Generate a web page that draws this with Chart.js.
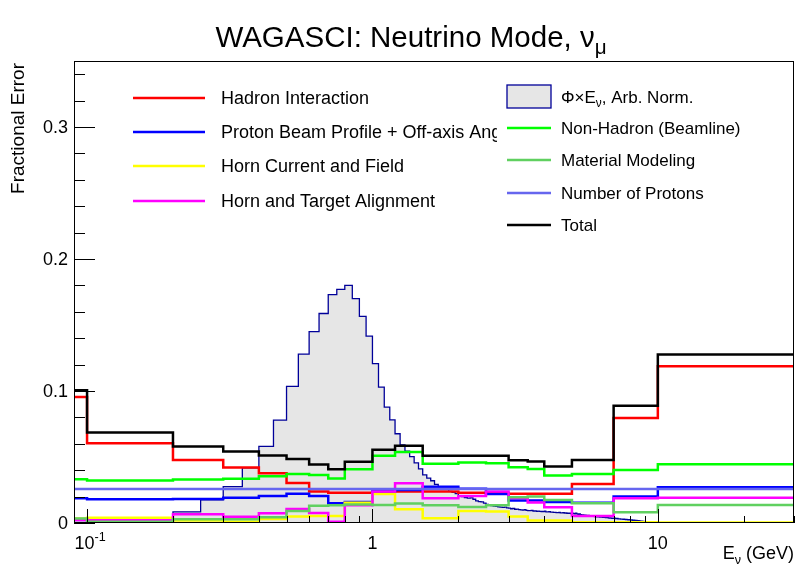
<!DOCTYPE html>
<html>
<head>
<meta charset="utf-8">
<script src="https://cdn.jsdelivr.net/npm/chart.js@4.4.0/dist/chart.umd.min.js"></script>
<style>
  html, body { margin: 0; padding: 0; background: #fff; }
</style>
</head>
<body>
<canvas id="graph" width="796" height="567"></canvas>
<script>
var chart;

// bin edges of the error histograms (GeV)
var binEdges = [0, 0.1, 0.2, 0.3, 0.4, 0.5, 0.6, 0.7, 0.8, 1.0, 1.2, 1.5, 2.0, 2.5, 3.0, 3.5, 4.0, 5.0, 7.0, 10.0, 30.0];

// fractional errors per bin
var hadron      = [0.0954, 0.0605, 0.0478, 0.0420, 0.0377, 0.0303, 0.0238, 0.0230, 0.0230, 0.0238, 0.0238, 0.0238, 0.0230, 0.0225, 0.0222, 0.0222, 0.0222, 0.0296, 0.0795, 0.1187];
var beamProfile = [0.0187, 0.0180, 0.0182, 0.0192, 0.0205, 0.0222, 0.0205, 0.0150, 0.0160, 0.0240, 0.0250, 0.0274, 0.0260, 0.0220, 0.0170, 0.0170, 0.0160, 0.0154, 0.0200, 0.0270];
var hornCurrent = [0.0035, 0.0040, 0.0018, 0.0010, 0.0030, 0.0050, 0.0053, 0.0053, 0.0154, 0.0220, 0.0104, 0.0036, 0.0091, 0.0088, 0.0050, 0.0018, 0.0018, 0.0005, 0.0005, 0.0003];
var hornAlign   = [0.0023, 0.0020, 0.0066, 0.0048, 0.0074, 0.0106, 0.0075, 0.0010, 0.0135, 0.0238, 0.0301, 0.0187, 0.0205, 0.0238, 0.0190, 0.0155, 0.0120, 0.0053, 0.0187, 0.0192];
var nonHadron   = [0.0332, 0.0322, 0.0330, 0.0335, 0.0355, 0.0372, 0.0364, 0.0337, 0.0408, 0.0509, 0.0537, 0.0448, 0.0458, 0.0452, 0.0423, 0.0410, 0.0360, 0.0372, 0.0402, 0.0446];
var material    = [0.0035, 0.0010, 0.0028, 0.0028, 0.0043, 0.0090, 0.0130, 0.0135, 0.0140, 0.0137, 0.0148, 0.0135, 0.0122, 0.0135, 0.0195, 0.0200, 0.0175, 0.0150, 0.0082, 0.0137];
var nProtons    = [0.0258, 0.0258, 0.0258, 0.0258, 0.0258, 0.0258, 0.0258, 0.0258, 0.0258, 0.0258, 0.0258, 0.0258, 0.0258, 0.0258, 0.0258, 0.0258, 0.0258, 0.0258, 0.0258, 0.0258];
var total       = [0.1005, 0.0686, 0.0580, 0.0542, 0.0512, 0.0484, 0.0443, 0.0408, 0.0464, 0.0554, 0.0585, 0.0509, 0.0509, 0.0509, 0.0475, 0.0466, 0.0428, 0.0478, 0.0888, 0.1276];

// flux x E, arbitrary normalisation, 0.05 GeV bins from 0 to 10 GeV
var fluxBinWidth = 0.05;
var flux = [
  0.0000, 0.0005, 0.0010, 0.0020, 0.0085, 0.0175, 0.0276, 0.0418, 0.0580, 0.0780, 0.1035, 0.1280, 0.1450, 0.1587, 0.1730, 0.1770, 0.1800, 0.1700, 0.1566, 0.1415,
  0.1207, 0.1030, 0.0878, 0.0782, 0.0676, 0.0592, 0.0545, 0.0503, 0.0455, 0.0410, 0.0364, 0.0340, 0.0320, 0.0292, 0.0275, 0.0265, 0.0260, 0.0240, 0.0232, 0.0222,
  0.0205, 0.0200, 0.0192, 0.0188, 0.0190, 0.0180, 0.0168, 0.0162, 0.0160, 0.0150, 0.0140, 0.0137, 0.0131, 0.0128, 0.0126, 0.0122, 0.0120, 0.0118, 0.0121, 0.0114,
  0.0112, 0.0108, 0.0110, 0.0104, 0.0105, 0.0101, 0.0100, 0.0098, 0.0101, 0.0096, 0.0094, 0.0093, 0.0095, 0.0091, 0.0092, 0.0089, 0.0090, 0.0088, 0.0087, 0.0086,
  0.0089, 0.0085, 0.0084, 0.0086, 0.0082, 0.0083, 0.0080, 0.0081, 0.0079, 0.0078, 0.0080, 0.0077, 0.0076, 0.0078, 0.0075, 0.0076, 0.0074, 0.0073, 0.0075, 0.0072,
  0.0074, 0.0072, 0.0070, 0.0075, 0.0069, 0.0066, 0.0068, 0.0063, 0.0061, 0.0062, 0.0059, 0.0060, 0.0057, 0.0056, 0.0057, 0.0054, 0.0053, 0.0054, 0.0051, 0.0050,
  0.0049, 0.0050, 0.0047, 0.0046, 0.0047, 0.0045, 0.0044, 0.0045, 0.0043, 0.0042, 0.0043, 0.0041, 0.0040, 0.0041, 0.0039, 0.0038, 0.0039, 0.0037, 0.0036, 0.0037,
  0.0035, 0.0036, 0.0034, 0.0033, 0.0034, 0.0032, 0.0031, 0.0032, 0.0030, 0.0029, 0.0030, 0.0028, 0.0029, 0.0027, 0.0026, 0.0027, 0.0025, 0.0024, 0.0025, 0.0023,
  0.0023, 0.0022, 0.0023, 0.0021, 0.0020, 0.0021, 0.0019, 0.0018, 0.0019, 0.0017, 0.0016, 0.0017, 0.0015, 0.0015, 0.0014, 0.0013, 0.0014, 0.0012, 0.0012, 0.0011,
  0.0011, 0.0010, 0.0010, 0.0009, 0.0009, 0.0008, 0.0008, 0.0007, 0.0007, 0.0006, 0.0006, 0.0006, 0.0005, 0.0005, 0.0004, 0.0004, 0.0004, 0.0003, 0.0003, 0.0003
];

// axis ticks
var yMajorTicks = [0, 0.1, 0.2, 0.3];
var yTickLabels = ["0", "0.1", "0.2", "0.3"];
var yMinorTicks = [0.02, 0.04, 0.06, 0.08, 0.12, 0.14, 0.16, 0.18, 0.22, 0.24, 0.26, 0.28, 0.32, 0.34];
var xMajorTicks = [0.1, 1, 10];
var xTickLabels = [[["10", 0], ["-1", -1]], [["1", 0]], [["10", 0]]];
var xMinorTicks = [0.2, 0.3, 0.4, 0.5, 0.6, 0.7, 0.8, 0.9, 2, 3, 4, 5, 6, 7, 8, 9, 20, 30];

var X_MIN = 0.09, X_MAX = 30, Y_MIN = 0, Y_MAX = 0.35;
var FONT = '"Liberation Sans", Arial, Helvetica, sans-serif';

function font(size) { return size + "px " + FONT; }

// step histogram points: one point per lower edge, plus the last upper edge
function histPoints(edges, values, closeToZero) {
  var pts = [];
  for (var i = 0; i < values.length; i++) {
    pts.push({ x: Math.max(edges[i], X_MIN), y: values[i] });
  }
  pts.push({ x: edges[values.length], y: values[values.length - 1] });
  if (closeToZero) pts.push({ x: edges[values.length], y: 0 });
  return pts;
}

var fluxEdges = [];
for (var i = 0; i <= flux.length; i++) fluxEdges.push(+(i * fluxBinWidth).toFixed(2));

// text with sub (1) / superscript (-1) parts, y is the baseline
function drawRich(ctx, parts, x, y, size, align) {
  var w = 0;
  parts.forEach(function(p) {
    ctx.font = font(p[1] ? size * 0.7 : size);
    w += ctx.measureText(p[0]).width;
  });
  var cx = align === "right" ? x - w : align === "center" ? x - w / 2 : x;
  ctx.textAlign = "left";
  ctx.textBaseline = "alphabetic";
  parts.forEach(function(p) {
    ctx.font = font(p[1] ? size * 0.7 : size);
    var dy = p[1] === 1 ? size * 0.25 : p[1] === -1 ? -size * 0.45 : 0;
    ctx.fillText(p[0], cx, y + dy);
    cx += ctx.measureText(p[0]).width;
  });
}

var leftLegend = { rows: [98, 132, 166, 201], x0: 133, x1: 205, tx: 221, size: 18 };
var rightLegend = { rows: [97, 128, 160, 193, 225], x0: 507, x1: 551, tx: 561, size: 17, box: [497, 76, 793, 242] };

var rootFrame = {
  id: "rootFrame",
  afterDatasetsDraw: function(chart) {
    var ctx = chart.ctx, a = chart.chartArea;
    var xs = chart.scales.x, ys = chart.scales.y;
    var ds = chart.data.datasets;
    ctx.save();
    ctx.fillStyle = "#000";

    // left legend: hadron, beam profile, horn current, horn alignment
    [1, 2, 3, 4].forEach(function(k, r) {
      var y = leftLegend.rows[r];
      ctx.strokeStyle = ds[k].borderColor;
      ctx.lineWidth = ds[k].borderWidth;
      ctx.beginPath(); ctx.moveTo(leftLegend.x0, y); ctx.lineTo(leftLegend.x1, y); ctx.stroke();
      ctx.font = font(leftLegend.size);
      ctx.textAlign = "left"; ctx.textBaseline = "middle";
      ctx.fillText(ds[k].label, leftLegend.tx, y + 1);
    });

    // right legend on a white pad
    var b = rightLegend.box;
    ctx.fillStyle = "#fff";
    ctx.fillRect(b[0], b[1], b[2] - b[0], b[3] - b[1]);
    ctx.fillStyle = "#000";
    [0, 5, 6, 7, 8].forEach(function(k, r) {
      var y = rightLegend.rows[r];
      if (k === 0) {
        ctx.fillStyle = ds[0].backgroundColor;
        ctx.fillRect(rightLegend.x0, y - 12, rightLegend.x1 - rightLegend.x0, 23);
        ctx.strokeStyle = ds[0].borderColor;
        ctx.lineWidth = 1.3;
        ctx.strokeRect(rightLegend.x0, y - 12, rightLegend.x1 - rightLegend.x0, 23);
        ctx.fillStyle = "#000";
        drawRich(ctx, [["\u03A6\u00D7E", 0], ["\u03BD", 1], [", Arb. Norm.", 0]], rightLegend.tx, y + 6, rightLegend.size, "left");
        return;
      }
      ctx.strokeStyle = ds[k].borderColor;
      ctx.lineWidth = ds[k].borderWidth;
      ctx.beginPath(); ctx.moveTo(rightLegend.x0, y); ctx.lineTo(rightLegend.x1, y); ctx.stroke();
      ctx.font = font(rightLegend.size);
      ctx.textAlign = "left"; ctx.textBaseline = "middle";
      ctx.fillText(ds[k].label, rightLegend.tx, y + 1);
    });

    // frame
    ctx.strokeStyle = "#000";
    ctx.lineWidth = 1;
    ctx.strokeRect(a.left + 0.5, a.top + 0.5, a.right - a.left - 1, a.bottom - a.top - 1);

    // y axis ticks
    ctx.beginPath();
    yMajorTicks.forEach(function(v) {
      var y = Math.round(ys.getPixelForValue(v)) + 0.5;
      ctx.moveTo(a.left, y); ctx.lineTo(a.left + 21, y);
    });
    yMinorTicks.forEach(function(v) {
      var y = Math.round(ys.getPixelForValue(v)) + 0.5;
      ctx.moveTo(a.left, y); ctx.lineTo(a.left + 11, y);
    });
    // x axis ticks
    xMajorTicks.forEach(function(v) {
      var x = Math.round(xs.getPixelForValue(v)) + 0.5;
      ctx.moveTo(x, a.bottom); ctx.lineTo(x, a.bottom - 14);
    });
    xMinorTicks.forEach(function(v) {
      var x = Math.round(xs.getPixelForValue(v)) + 0.5;
      ctx.moveTo(x, a.bottom); ctx.lineTo(x, a.bottom - 7);
    });
    ctx.stroke();

    ctx.font = font(18);
    ctx.textAlign = "right"; ctx.textBaseline = "middle";
    yMajorTicks.forEach(function(v, i) {
      ctx.fillText(yTickLabels[i], a.left - 6, ys.getPixelForValue(v) + 1);
    });
    xMajorTicks.forEach(function(v, i) {
      var shift = xTickLabels[i].length > 1 ? 3 : 0;
      drawRich(ctx, xTickLabels[i], xs.getPixelForValue(v) + shift, a.bottom + 26, 18, "center");
    });

    // axis titles
    drawRich(ctx, [["E", 0], ["\u03BD", 1], [" (GeV)", 0]], a.right, a.bottom + 36, 18, "right");
    ctx.save();
    ctx.translate(24, a.top + 2);
    ctx.rotate(-Math.PI / 2);
    ctx.font = font(19);
    ctx.textAlign = "right"; ctx.textBaseline = "alphabetic";
    ctx.fillText("Fractional Error", 0, 0);
    ctx.restore();

    // title
    drawRich(ctx, [["WAGASCI: Neutrino Mode, \u03BD", 0], ["\u03BC", 1]], 411, 47, 29.5, "center");
    ctx.restore();
  }
};

function updateChart() {
  var ctx = document.getElementById("graph").getContext("2d");
  if (chart) chart.destroy();

  // "before": hold each bin value up to the next edge, then step
  function line(label, values, color, order) {
    return {
      label: label,
      data: histPoints(binEdges, values, false),
      borderColor: color,
      backgroundColor: "transparent",
      borderWidth: 2.5,
      stepped: "before",
      fill: false,
      pointRadius: 0,
      order: order
    };
  }

  chart = new Chart(ctx, {
    type: "line",
    data: {
      datasets: [
        {
          label: "\u03A6\u00D7E\u03BD, Arb. Norm.",
          data: histPoints(fluxEdges, flux, true),
          borderColor: "#000099",
          backgroundColor: "#e6e6e6",
          borderWidth: 1.3,
          stepped: "before",
          fill: "origin",
          pointRadius: 0,
          order: 9
        },
        line("Hadron Interaction", hadron, "#ff0000", 8),
        line("Proton Beam Profile + Off-axis Angle", beamProfile, "#0000ff", 7),
        line("Horn Current and Field", hornCurrent, "#ffff00", 6),
        line("Horn and Target Alignment", hornAlign, "#ff00ff", 5),
        line("Non-Hadron (Beamline)", nonHadron, "#00ff00", 4),
        line("Material Modeling", material, "#60d060", 3),
        line("Number of Protons", nProtons, "#6666ee", 2),
        line("Total", total, "#000000", 1)
      ]
    },
    options: {
      responsive: false,
      animation: false,
      devicePixelRatio: 1,
      layout: { padding: { left: 74, right: 2, top: 61, bottom: 44 } },
      plugins: {
        legend: { display: false },
        title: { display: false },
        tooltip: { enabled: false }
      },
      scales: {
        x: { type: "logarithmic", min: X_MIN, max: X_MAX, display: false },
        y: { type: "linear", min: Y_MIN, max: Y_MAX, display: false }
      }
    },
    plugins: [rootFrame]
  });
}

updateChart();
</script>
</body>
</html>
